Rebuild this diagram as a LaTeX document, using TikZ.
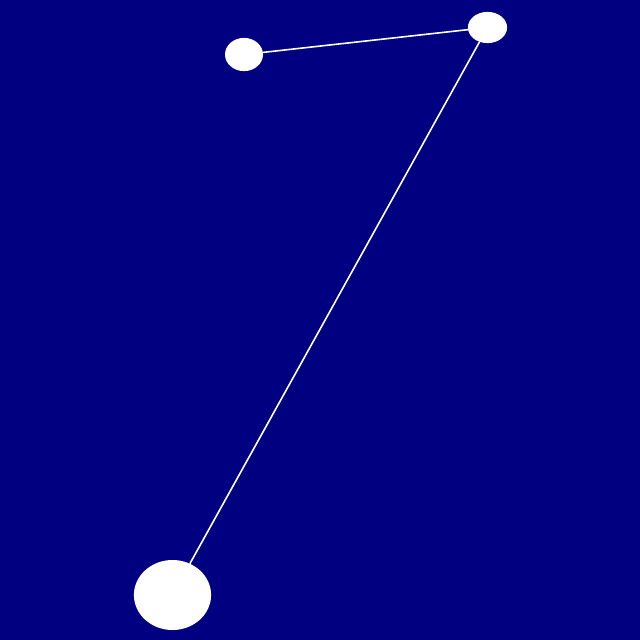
\documentclass[tikz,border=0pt]{standalone}
\usepackage{tikz}
\usetikzlibrary{shapes.geometric}
\definecolor{nightblue}{RGB}{0,0,128}
\tikzset{star node/.style={ellipse,fill=white,draw=none,inner sep=0pt,outer sep=0pt},
link/.style={draw=white,line width=0.04cm}}

\begin{document}
\begin{tikzpicture}[x=0.025cm,y=-0.025cm]

%BACKGROUND
  \fill[nightblue] (0,0) rectangle (640,640);
  \useasboundingbox (0,0) rectangle (640,640);

%DRAWING STARS
  \node[star node,minimum width=0.95cm,minimum height=0.83cm] (left) at (244,54.5) {};
  \node[star node,minimum width=0.98cm,minimum height=0.78cm] (top) at (487.5,27.5) {};
  \node[star node,minimum width=1.93cm,minimum height=1.75cm] (bottom) at (172.5,595) {};

%DRAWING LINKS
  \path[link] (left) -- (top)
              (top) -- (bottom);

\end{tikzpicture}
\end{document}
